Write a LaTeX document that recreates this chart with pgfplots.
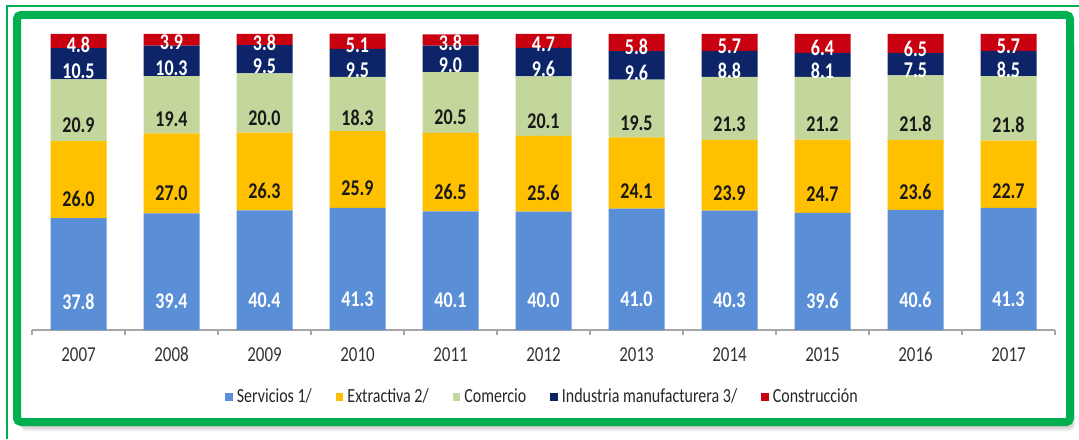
\documentclass[border=0pt]{standalone}
\usepackage{graphicx}
\usepackage{pgfplots}
\pgfplotsset{compat=1.18}
\usepackage{pgfplotstable}
\usepackage{fontspec}
\setmainfont{Carlito}
\definecolor{serv}{HTML}{5A8FD8}
\definecolor{extr}{HTML}{FFC000}
\definecolor{comr}{HTML}{C3D69B}
\definecolor{indu}{HTML}{0D2568}
\definecolor{cons}{HTML}{C8000F}
\definecolor{frame}{HTML}{00B050}
\newcommand{\vs}[1]{\scalebox{1}[1.25]{#1}}
\pgfplotstableread{
x s e c i k
0 37.8 26.0 20.9 10.5 4.8
1 39.4 27.0 19.4 10.3 3.9
2 40.4 26.3 20.0 9.5 3.8
3 41.3 25.9 18.3 9.5 5.1
4 40.1 26.5 20.5 9.0 3.8
5 40.0 25.6 20.1 9.6 4.7
6 41.0 24.1 19.5 9.6 5.8
7 40.3 23.9 21.3 8.8 5.7
8 39.6 24.7 21.2 8.1 6.4
9 40.6 23.6 21.8 7.5 6.5
10 41.3 22.7 21.8 8.5 5.7
}\data
\pgfplotsset{seg/.style n args={2}{fill=#1, draw=none, forget plot,
  visualization depends on={rawy \as \val},
  nodes near coords={\vs{\pgfmathprintnumber[fixed,fixed zerofill,precision=1,assume math mode=true]{\val}}},
  every node near coord/.append style={text=#2, anchor=center, yshift={-0.37pt*\val},
    font=\bfseries\fontsize{9}{9}\selectfont}}}
\begin{document}
\begin{tikzpicture}
\path[use as bounding box] (0,0) rectangle (539.5pt,219.5pt);
\draw[frame, line width=1pt] (539.5pt,216.5pt) -- (3.5pt,216.5pt) -- (3.5pt,0pt);
\foreach \d in {1,2,3,4,5}
  \fill[black, opacity=0.07, rounded corners=3pt] ({8.5pt+\d*0.4pt},{8.5pt-\d*0.9pt}) rectangle ({535pt+\d*0.5pt},{200pt});
\draw[frame, line width=4pt, rounded corners=2pt, fill=white] (8.5pt,8.5pt) rectangle (535pt,212pt);
\begin{axis}[
  at={(16pt,54.5pt)}, anchor=south west,
  scale only axis, width=511.5pt, height=148pt,
  ybar stacked, bar width=28pt,
  xmin=-0.5, xmax=10.5, ymin=0, ymax=100,
  enlargelimits=false, clip=false,
  axis y line=none, axis x line*=bottom,
  x axis line style={draw=black!35, line width=0.6pt},
  xtick={0,...,10},
  xticklabels={\vs{2007},\vs{2008},\vs{2009},\vs{2010},\vs{2011},\vs{2012},\vs{2013},\vs{2014},\vs{2015},\vs{2016},\vs{2017}},
  major tick length=0pt,
  xticklabel style={font=\fontsize{8.5}{8.5}\selectfont, text=black!80, yshift=-5pt, text height=7.2pt, text depth=0pt},
  extra x ticks={-0.5,0.5,...,10.5},
  extra x tick labels={},
  extra x tick style={major tick length=2.5pt, tick align=outside, tick style={draw=black!35, line width=0.6pt}},
  legend style={at={(0.5,-0.226)}, anchor=center, draw=none, fill=none,
    legend columns=5, font=\fontsize{8}{8}\selectfont,
    /tikz/every even column/.append style={column sep=10pt}, text=black!85},
  legend image code/.code={\fill[#1] (0pt,-1.9pt) rectangle (3.8pt,1.9pt);},
]
\addlegendimage{fill=serv, draw=none}
\addlegendimage{fill=extr, draw=none}
\addlegendimage{fill=comr, draw=none}
\addlegendimage{fill=indu, draw=none}
\addlegendimage{fill=cons, draw=none}
\addplot[seg={serv}{white}] table[x=x,y=s]{\data};
\addplot[seg={extr}{black!90}] table[x=x,y=e]{\data};
\addplot[seg={comr}{black!90}] table[x=x,y=c]{\data};
\addplot[seg={indu}{white}] table[x=x,y=i]{\data};
\addplot[seg={cons}{white}] table[x=x,y=k]{\data};
\legend{\vs{Servicios 1/}, \vs{Extractiva 2/}, \vs{Comercio}, \vs{Industria manufacturera 3/}, \vs{Construcción}}
\end{axis}
\end{tikzpicture}
\end{document}
